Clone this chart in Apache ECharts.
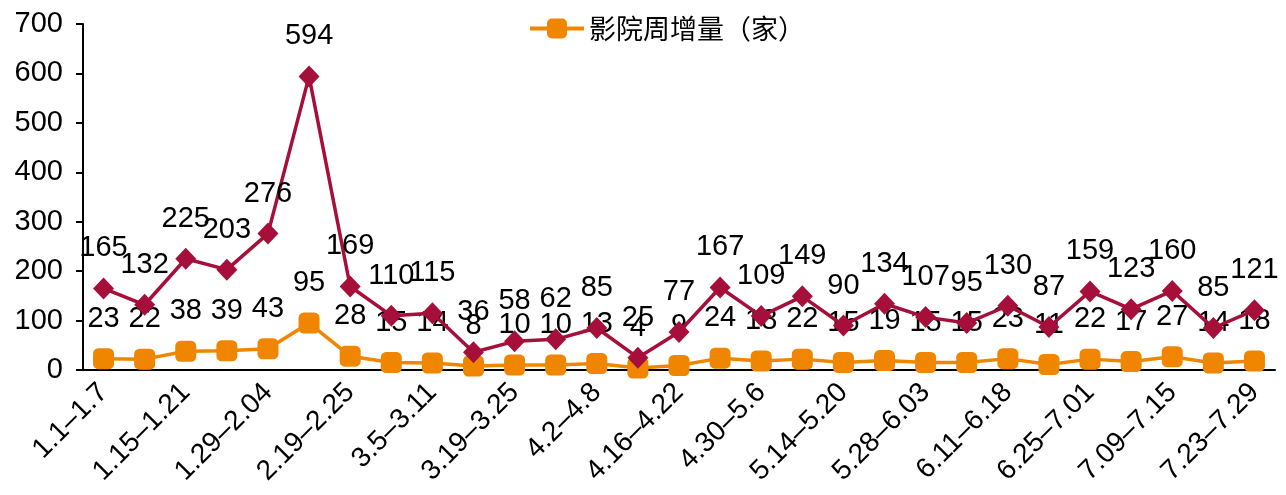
<!DOCTYPE html>
<html>
<head>
<meta charset="utf-8">
<script src="https://cdn.jsdelivr.net/npm/echarts@6/dist/echarts.min.js"></script>
<style>
html,body{margin:0;padding:0;background:#fff;}
#chart{width:1286px;height:495px;}
</style>
</head>
<body>
<div id="chart"></div>
<script>
const categories = ['1.1–1.7','1.8–1.14','1.15–1.21','1.22–1.28','1.29–2.04','2.05–2.18','2.19–2.25','2.26–3.4','3.5–3.11','3.12–3.18','3.19–3.25','3.26–4.1','4.2–4.8','4.9–4.15','4.16–4.22','4.23–4.29','4.30–5.6','5.7–5.13','5.14–5.20','5.21–5.27','5.28–6.03','6.04–6.10','6.11–6.18','6.19–6.24','6.25–7.01','7.02–7.08','7.09–7.15','7.16–7.22','7.23–7.29'];
const screenWeekly = [165,132,225,203,276,594,169,110,115,36,58,62,85,25,77,167,109,149,90,134,107,95,130,87,159,123,160,85,121];
const cinemaWeekly = [23,22,38,39,43,95,28,15,14,8,10,10,13,4,9,24,18,22,15,19,15,15,23,11,22,17,27,14,18];
const yTicks = {min:0, max:700, interval:100};

const FONT = '"Liberation Sans", Arial, sans-serif';
const chart = echarts.init(document.getElementById('chart'), null, {renderer:'canvas'});
const labelCfg = {
  show: true, position: 'inside', offset: [0,-40],
  color: '#000', fontSize: 29, fontFamily: FONT
};
chart.setOption({
  animation: false,
  backgroundColor: '#fff',
  grid: {left: 83, right: 11, top: 24, bottom: 125, containLabel: false},
  legend: {
    data: ['影院周增量（家）'],
    left: 528, top: 15, padding: 0,
    itemWidth: 54, itemHeight: 25, itemGap: 5,
    lineStyle: {width: 4},
    textStyle: {fontSize: 27, color: '#000', fontFamily: '"Noto Sans CJK SC", sans-serif'}
  },
  xAxis: {
    type: 'category',
    data: categories,
    boundaryGap: true,
    axisLine: {show: true, lineStyle: {color: '#000', width: 2}},
    axisTick: {show: false},
    axisLabel: {interval: 1, rotate: 45, fontSize: 28, color: '#000', fontFamily: FONT, margin: 18}
  },
  yAxis: {
    type: 'value',
    min: yTicks.min, max: yTicks.max, interval: yTicks.interval,
    axisLine: {show: true, lineStyle: {color: '#000', width: 2}},
    axisTick: {show: true, length: 7, lineStyle: {color: '#000', width: 2}},
    splitLine: {show: false},
    axisLabel: {fontSize: 29, color: '#000', fontFamily: FONT, margin: 20}
  },
  series: [
    {
      name: '银幕周增量（块）',
      type: 'line',
      data: screenWeekly,
      symbol: 'diamond',
      symbolSize: [21, 22],
      itemStyle: {color: '#A50F3A'},
      lineStyle: {color: '#A50F3A', width: 3.5},
      label: labelCfg,
      z: 3
    },
    {
      name: '影院周增量（家）',
      type: 'line',
      data: cinemaWeekly,
      symbol: 'roundRect',
      symbolSize: 21,
      itemStyle: {color: '#F08600'},
      lineStyle: {color: '#F08600', width: 3.5},
      label: labelCfg,
      z: 2
    }
  ]
});
</script>
</body>
</html>
